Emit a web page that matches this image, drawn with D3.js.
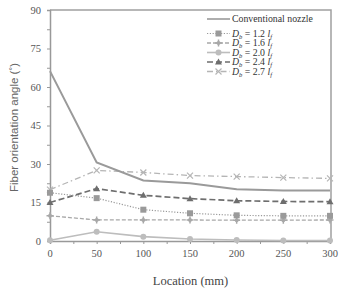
<!DOCTYPE html>
<html>
<head>
<meta charset="utf-8">
<script src="https://cdn.jsdelivr.net/npm/d3@7"></script>
<style>
body { margin: 0; background: #fff; }
</style>
</head>
<body>
<div id="graph"></div>
<script>
// data
const locations = [0, 50, 100, 150, 200, 250, 300];
const conventional = [66.2, 30.6, 23.6, 22.5, 20.2, 19.7, 19.7];
const db12 = [18.8, 16.7, 12.2, 10.8, 10.0, 9.8, 9.8];
const db16 = [9.8, 8.2, 8.2, 8.2, 8.1, 8.1, 8.2];
const db20 = [0.3, 3.6, 1.7, 0.8, 0.4, 0.2, 0.2];
const db24 = [15.0, 20.4, 17.8, 16.5, 15.7, 15.4, 15.3];
const db27 = [20.0, 27.5, 26.7, 25.5, 25.1, 24.7, 24.4];
const yTicks = [0, 15, 30, 45, 60, 75, 90];
const xTicks = [0, 50, 100, 150, 200, 250, 300];

const width = 339, height = 290;
const padding = {left: 50, right: 8, top: 10, bottom: 49};
const serif = "'Liberation Serif', 'Times New Roman', 'DejaVu Serif', serif";

const series = [
	{name: "Conventional nozzle", values: conventional, color: "#9a9a9a", width: 2, dash: null, marker: "none"},
	{name: "1.2", values: db12, color: "#9a9a9a", width: 1.2, dash: "1.2,1.6", marker: "square"},
	{name: "1.6", values: db16, color: "#a8a8a8", width: 1.3, dash: "4,2", marker: "plus"},
	{name: "2.0", values: db20, color: "#bdbdbd", width: 1.6, dash: null, marker: "circle"},
	{name: "2.4", values: db24, color: "#6e6e6e", width: 1.7, dash: "6,3", marker: "triangle"},
	{name: "2.7", values: db27, color: "#b5b5b5", width: 1.3, dash: "6,3,1.5,3", marker: "cross"}
];

const graph = d3.select("div#graph")
	.append("svg")
	.attr("width", width)
	.attr("height", height)
	.style("font-family", serif);

const xScale = d3.scaleLinear()
	.range([padding.left, width - padding.right - 1])
	.domain([0, 300]);

const yScale = d3.scaleLinear()
	.range([height - padding.bottom, padding.top])
	.domain([0, 90]);

// plot frame (top and right)
graph.append("path")
	.attr("d", `M${padding.left},${padding.top}H${width - padding.right}V${height - padding.bottom}`)
	.attr("fill", "none")
	.attr("stroke", "#a0a0a0")
	.attr("stroke-width", 1.5);

// minor ticks
const xAxis = d3.axisBottom(xScale).tickValues(d3.range(0, 301, 25)).tickSize(3).tickFormat("");
const yAxis = d3.axisLeft(yScale).tickValues(d3.range(0, 90.1, 7.5)).tickSize(3).tickFormat("");

const gx = graph.append("g")
	.attr("class", "x axis")
	.attr("transform", `translate(0, ${height - padding.bottom})`)
	.call(xAxis);
const gy = graph.append("g")
	.attr("class", "y axis")
	.attr("transform", `translate(${padding.left}, 0)`)
	.call(yAxis);

[gx, gy].forEach(g => {
	g.select(".domain").attr("stroke", "#999").attr("stroke-width", 1.5);
	g.selectAll(".tick line").attr("stroke", "#999");
});

// tick labels
graph.append("g").selectAll("text").data(xTicks).enter()
	.append("text")
	.attr("x", d => xScale(d))
	.attr("y", height - padding.bottom + 16)
	.attr("text-anchor", "middle")
	.style("font-family", serif)
	.attr("font-size", 10.5)
	.attr("fill", "#555")
	.text(d => d);

graph.append("g").selectAll("text").data(yTicks).enter()
	.append("text")
	.attr("x", padding.left - 9)
	.attr("y", d => yScale(d) + 3.5)
	.attr("text-anchor", "end")
	.style("font-family", serif)
	.attr("font-size", 10.5)
	.attr("fill", "#555")
	.text(d => d);

// axis titles
graph.append("text")
	.attr("x", (padding.left + width - padding.right) / 2)
	.attr("y", 285)
	.attr("text-anchor", "middle")
	.style("font-family", serif)
	.attr("font-size", 12.5)
	.attr("fill", "#444")
	.text("Location (mm)");

graph.append("text")
	.attr("transform", `translate(18, ${(padding.top + height - padding.bottom) / 2 + 2}) rotate(-90)`)
	.attr("text-anchor", "middle")
	.style("font-family", "'Liberation Sans', Arial, sans-serif")
	.attr("font-size", 11.5)
	.attr("fill", "#666")
	.text("Fiber orientation angle (˚)");

function drawMarker(g, type, x, y, color) {
	if (type == "square") {
		g.append("rect").attr("x", x - 3).attr("y", y - 3).attr("width", 6).attr("height", 6).attr("fill", color);
	} else if (type == "circle") {
		g.append("circle").attr("cx", x).attr("cy", y).attr("r", 3).attr("fill", color);
	} else if (type == "triangle") {
		g.append("path").attr("d", `M${x},${y - 3.5}L${x + 3.5},${y + 2.5}L${x - 3.5},${y + 2.5}Z`).attr("fill", color);
	} else if (type == "plus") {
		g.append("path").attr("d", `M${x - 3.5},${y}H${x + 3.5}M${x},${y - 3.5}V${y + 3.5}`).attr("stroke", color).attr("stroke-width", 1.5);
		g.append("circle").attr("cx", x).attr("cy", y).attr("r", 2).attr("fill", color);
	} else if (type == "cross") {
		g.append("path").attr("d", `M${x - 3},${y - 3}L${x + 3},${y + 3}M${x - 3},${y + 3}L${x + 3},${y - 3}`).attr("stroke", color).attr("stroke-width", 1.2);
	}
}

const line = d3.line()
	.x((d, i) => xScale(locations[i]))
	.y(d => yScale(d));

for (let i = series.length - 1; i >= 0; i--) {
	const s = series[i];
	const g = graph.append("g");
	g.append("path").datum(s.values)
		.attr("fill", "none")
		.attr("stroke", s.color)
		.attr("stroke-width", s.width)
		.attr("stroke-dasharray", s.dash)
		.attr("d", line);
	s.values.forEach((v, j) => drawMarker(g, s.marker, xScale(locations[j]), yScale(v), s.color));
}

// legend
const legY = [19, 33.5, 43, 52.5, 62, 71.5];
const legend = graph.selectAll(".legend").data(series).enter()
	.append("g")
	.attr("class", "legend")
	.attr("transform", (d, i) => `translate(207, ${legY[i]})`);

legend.append("line")
	.attr("x1", 0).attr("x2", 23)
	.attr("stroke", d => d.color)
	.attr("stroke-width", d => Math.min(d.width, 1.6))
	.attr("stroke-dasharray", d => d.dash);

legend.each(function(d) { drawMarker(d3.select(this), d.marker, 11.5, 0, d.color); });

legend.append("text")
	.attr("x", 25)
	.attr("y", 3.3)
	.style("font-family", serif)
	.attr("font-size", 9.8)
	.attr("fill", "#333")
	.each(function(d) {
		const t = d3.select(this);
		if (d.marker == "none") { t.text(d.name); return; }
		t.append("tspan").attr("font-style", "italic").text("D");
		t.append("tspan").attr("font-size", 6.5).attr("dy", 2).attr("font-style", "italic").text("b");
		t.append("tspan").attr("dy", -2).text(" = " + d.name + " ");
		t.append("tspan").attr("font-style", "italic").text("l");
		t.append("tspan").attr("font-size", 6.5).attr("dy", 2).attr("font-style", "italic").text("f");
	});
</script>
</body>
</html>
